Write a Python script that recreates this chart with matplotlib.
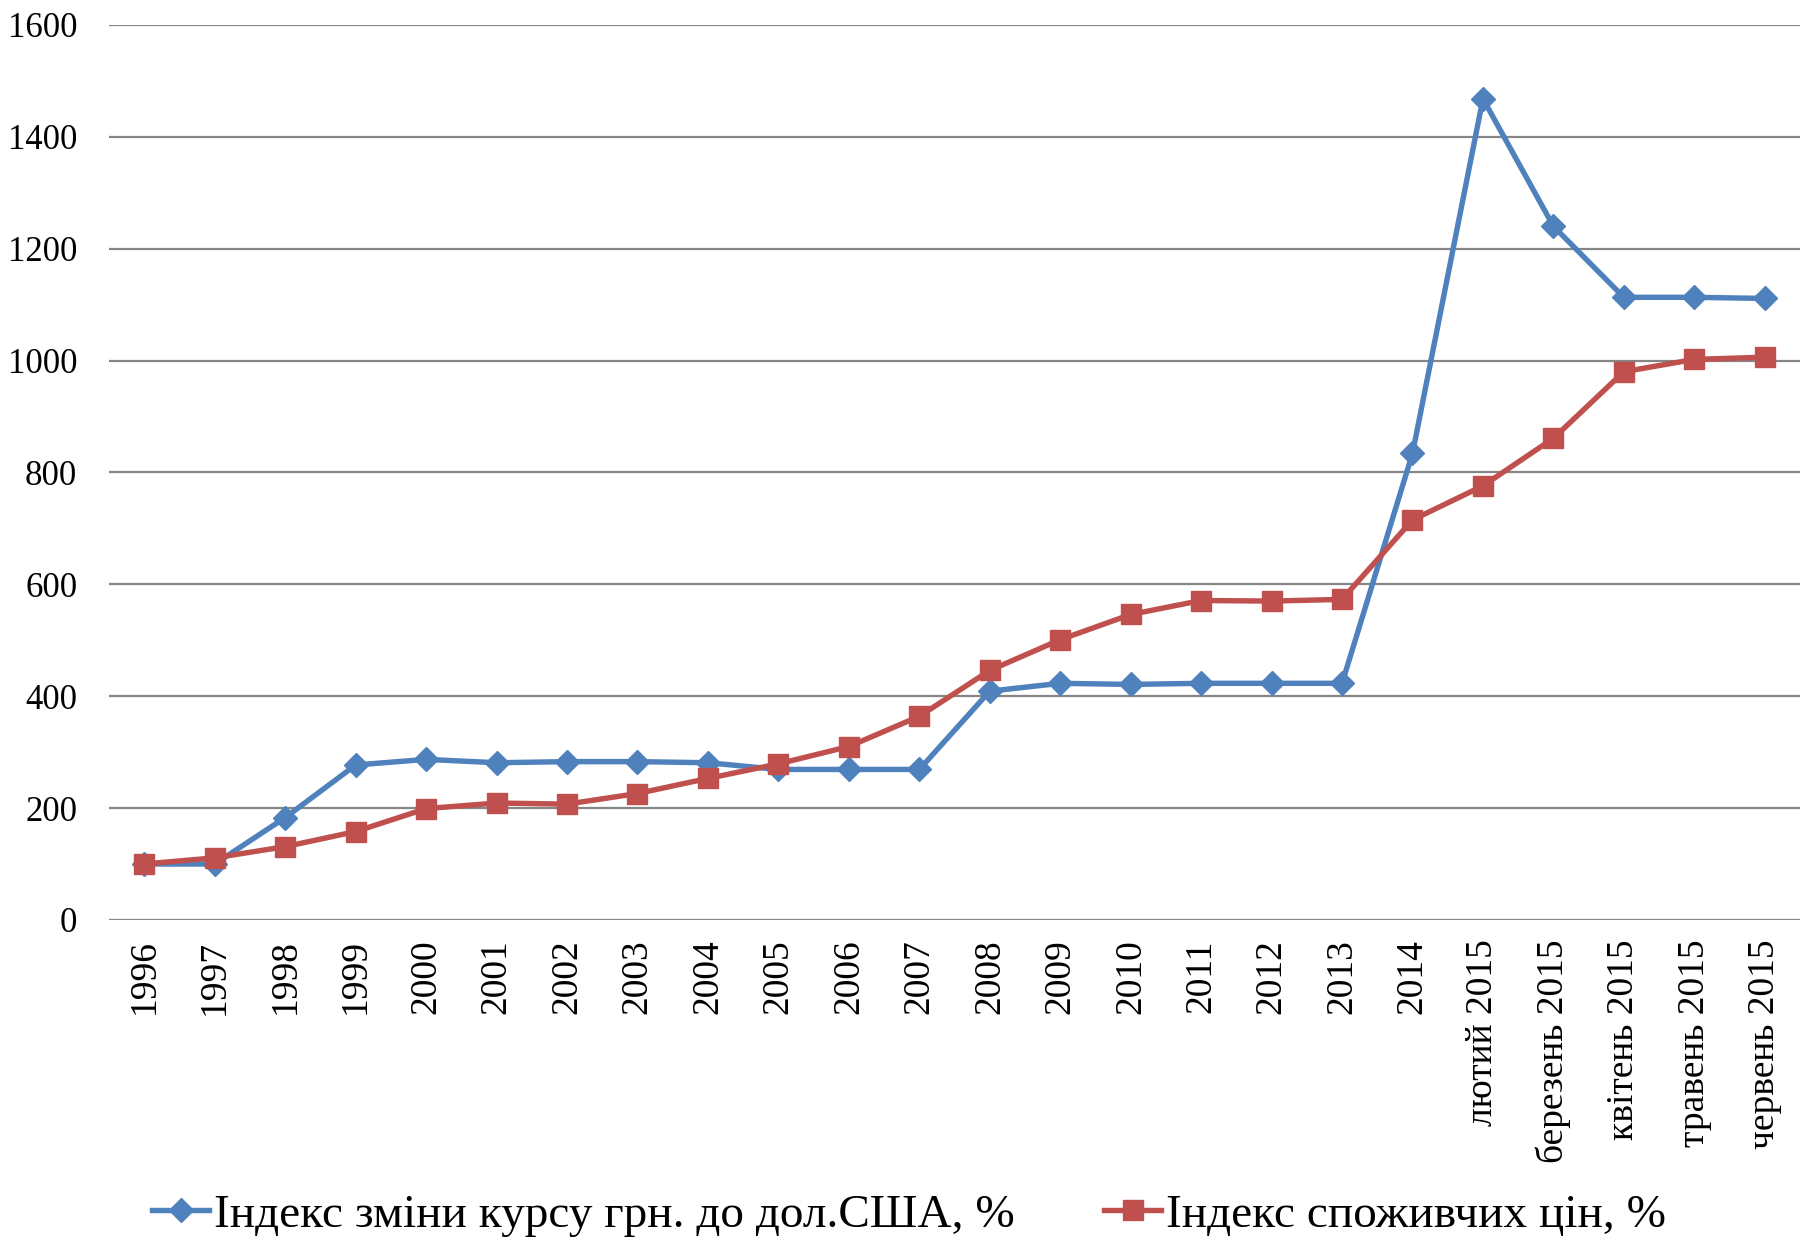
import matplotlib.pyplot as plt
from matplotlib.lines import Line2D

plt.rcParams['font.family'] = ['Liberation Serif', 'DejaVu Serif']

labels = ['1996', '1997', '1998', '1999', '2000', '2001', '2002', '2003',
          '2004', '2005', '2006', '2007', '2008', '2009', '2010', '2011',
          '2012', '2013', '2014', 'лютий 2015', 'березень 2015',
          'квітень 2015', 'травень 2015', 'червень 2015']

# індекс зміни курсу грн. до дол. США, %
kurs = [100, 100, 183, 277, 287, 281, 283, 283, 281, 269, 269, 269,
        409, 423, 421, 423, 423, 423, 834, 1468, 1240, 1113, 1113, 1111]

# індекс споживчих цін, %
ipc = [100, 111, 131, 158, 199, 209, 207, 226, 253, 279, 310, 364,
       446, 501, 546, 571, 570, 573, 715, 776, 861, 980, 1002, 1006]

blue = '#4F81BD'
red = '#C0504D'

fig = plt.figure(figsize=(18, 12.44), dpi=100)
ax = fig.add_axes([0.0606, 0.2605, 0.9394, 0.7195])

x = list(range(len(labels)))
ax.plot(x, kurs, color=blue, lw=3.9, marker='D', ms=12, mec=blue, mfc=blue)
ax.plot(x, ipc, color=red, lw=3.9, marker='s', ms=14, mec=red, mfc=red)

ax.set_xlim(-0.5, len(labels) - 0.5)
ax.set_ylim(0, 1600)
ax.set_yticks(range(0, 1601, 200))
ax.set_xticks(x)
ax.set_xticklabels(labels, rotation=90, fontsize=27, va='top')
ax.tick_params(axis='y', labelsize=25, length=0, pad=23)
ax.tick_params(axis='x', length=0, pad=14)
ax.yaxis.grid(True, color='#868686', lw=1.6)
ax.set_axisbelow(True)
for sp in ax.spines.values():
    sp.set_visible(False)

handles = [
    Line2D([], [], color=blue, lw=3.9, marker='D', ms=12),
    Line2D([], [], color=red, lw=3.9, marker='s', ms=14),
]
fig.legend(handles, ['Індекс зміни курсу грн. до дол.США, %',
                     'Індекс споживчих цін, %'],
           loc='center', bbox_to_anchor=(0.505, 0.023), ncol=2,
           frameon=False, fontsize=34, handlelength=1.2, handletextpad=0.1,
           columnspacing=1.9)

fig.savefig('out.png', dpi=100)
